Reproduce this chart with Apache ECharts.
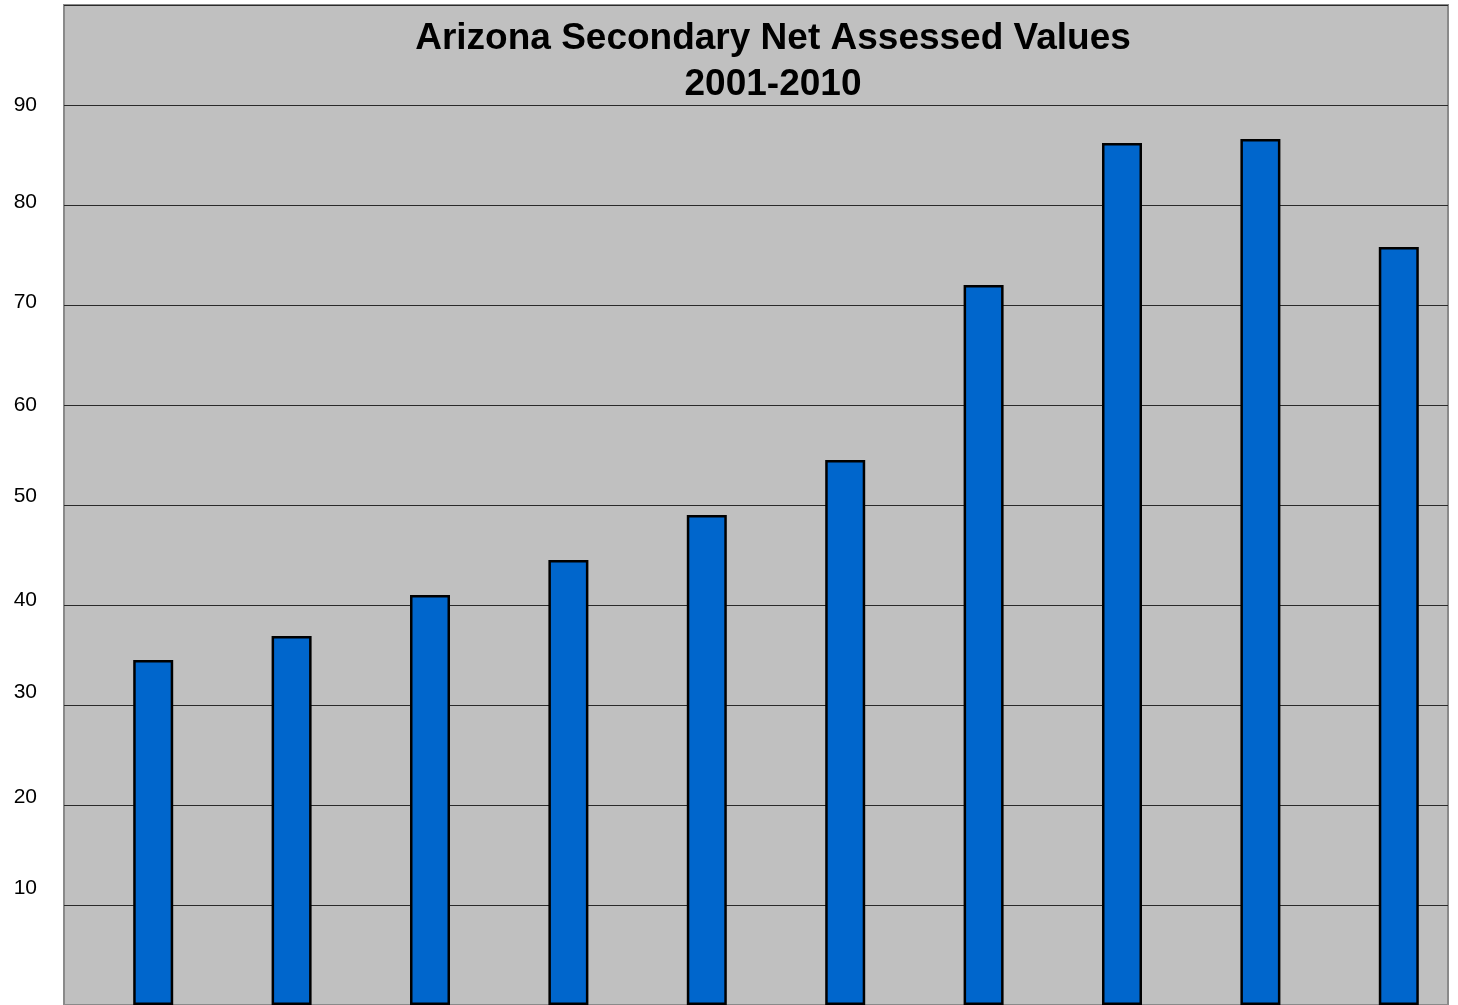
<!DOCTYPE html>
<html>
<head>
<meta charset="utf-8">
<script src="https://cdn.jsdelivr.net/npm/echarts@6/dist/echarts.min.js"></script>
<style>
html,body{margin:0;padding:0;background:#fff;}
#chart{width:1458px;height:1005px;}
</style>
</head>
<body>
<div id="chart"></div>
<script>
const years = ['2001','2002','2003','2004','2005','2006','2007','2008','2009','2010'];
const values = [34.5, 36.9, 41.0, 44.5, 49.0, 54.5, 72.0, 86.2, 86.6, 75.8];
const emptySeries = [null, null, null, null, null, null, null, null, null, null];
const titleLines = ['Arizona Secondary Net Assessed Values', '2001-2010'];

// upward nudge (px) of each tick label, as in the original rendering
const labelLift = {10: 17, 20: 8, 30: 13, 40: 5, 50: 9, 60: 0, 70: 3, 80: 3, 90: 0};
const rich = {};
Object.keys(labelLift).forEach(function (k) {
  rich['t' + k] = {
    fontFamily: 'Liberation Sans, Arial, sans-serif',
    fontSize: 21,
    color: '#000',
    padding: [0, 0, labelLift[k] * 2, 0]
  };
});

const chart = echarts.init(document.getElementById('chart'), null, {renderer: 'canvas'});
chart.setOption({
  animation: false,
  backgroundColor: '#ffffff',
  title: {
    text: titleLines.join('\n'),
    left: 768,
    top: 11,
    textAlign: 'center',
    textStyle: {
      fontFamily: 'Liberation Sans, Arial, sans-serif',
      fontWeight: 'bold',
      fontSize: 37,
      lineHeight: 46,
      color: '#000'
    }
  },
  grid: {
    left: 64,
    right: 10,
    top: 5,
    height: 1001,
    show: true,
    backgroundColor: '#c0c0c0',
    borderColor: '#8a8a8a',
    borderWidth: 2
  },
  xAxis: {
    type: 'category',
    data: years,
    axisLabel: {show: false},
    axisTick: {show: false},
    axisLine: {show: false},
    splitLine: {show: false}
  },
  yAxis: {
    type: 'value',
    min: 0,
    max: 100,
    interval: 10,
    axisLine: {show: false},
    axisTick: {show: false},
    splitLine: {show: true, lineStyle: {color: '#2a2a2a', width: 1}},
    axisLabel: {
      margin: 27,
      fontFamily: 'Liberation Sans, Arial, sans-serif',
      fontSize: 21,
      color: '#000',
      rich: rich,
      formatter: function (v) {
        if (v === 0 || v === 100) return '';
        return '{t' + v + '|' + v + '}';
      }
    }
  },
  series: [
    {
      type: 'bar',
      data: emptySeries,
      barWidth: 40,
      barGap: '0%',
      itemStyle: {color: 'transparent'}
    },
    {
      type: 'bar',
      data: values,
      barWidth: 40,
      barGap: '0%',
      itemStyle: {color: '#0066cc', borderColor: '#000000', borderWidth: 2.5}
    }
  ]
});
</script>
</body>
</html>
